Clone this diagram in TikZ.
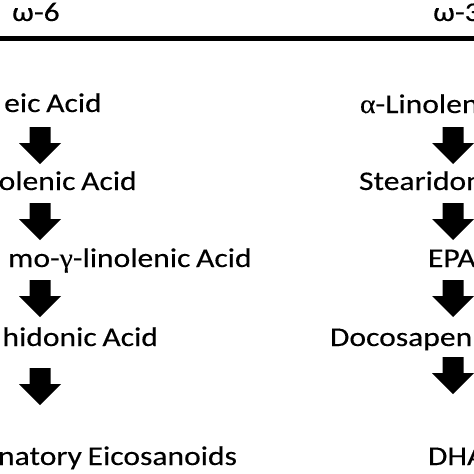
\documentclass[tikz,border=0pt]{standalone}
\usepackage{fontspec}
\setmainfont{Carlito}[FakeStretch=1.17,FakeBold=0.25,WordSpace=0.8]
\newfontfamily\grk{Liberation Serif}[FakeStretch=1.1,FakeBold=0.2]
\begin{document}
\begin{tikzpicture}[x=1pt,y=-1pt,
  lbl/.style={inner sep=0pt, outer sep=0pt, font=\fontsize{27}{30}\selectfont},
  blockarrow/.pic={\fill[black] (-10.5,0) -- (10.5,0) -- (10.5,16) -- (21,16) -- (0,37) -- (-21,16) -- (-10.5,16) -- cycle;}]
\useasboundingbox (0,0) rectangle (474,474);
\fill[white] (0,0) rectangle (474,474);
\clip (0,0) rectangle (474,474);
% rule
\coordinate (rl) at (-2,38);
\coordinate (rr) at (476,38);
\draw[line width=5pt] (rl) -- (rr);
% headers
\node[lbl, anchor=base west] (h6) at (12,21) {ω-6};
\node[lbl, anchor=base west] (h3) at (433,21) {ω-3};
% left column
\node[lbl, anchor=base east] (l1) at (101.7,112) {eic Acid};
\node[lbl, anchor=base east] (l2) at (136.7,190) {olenic Acid};
\node[lbl, anchor=base east] (l3) at (251.7,267) {mo-{\grk γ}-linolenic Acid};
\node[lbl, anchor=base east] (l4) at (158,346) {hidonic Acid};
\node[lbl, anchor=base east] (l5) at (237,465) {natory Eicosanoids};
% right column
\node[lbl, anchor=base west] (r1) at (360,113) {{\grk α}-Linolen};
\node[lbl, anchor=base west] (r2) at (359,190) {Stearidon};
\node[lbl, anchor=base west] (r3) at (428,267) {EPA};
\node[lbl, anchor=base west] (r4) at (330,346) {Docosapen};
\node[lbl, anchor=base west] (r5) at (428,465) {DHA};
% arrows
\pic at (40,127) {blockarrow};
\pic at (40,203) {blockarrow};
\pic at (40,280) {blockarrow};
\pic at (40,368) {blockarrow};
\pic at (453,127) {blockarrow};
\pic at (453,203) {blockarrow};
\pic at (453,280) {blockarrow};
\pic at (453,357) {blockarrow};
\end{tikzpicture}
\end{document}
